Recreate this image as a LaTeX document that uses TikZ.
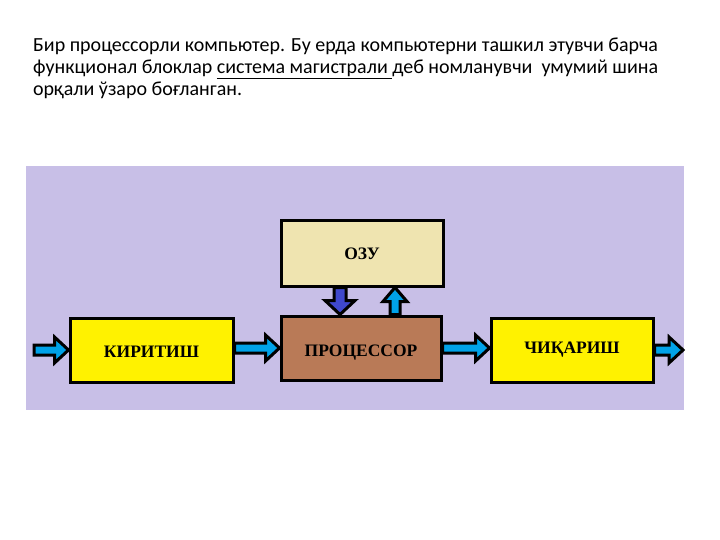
\documentclass[tikz,border=0pt]{standalone}
\usepackage{fontspec}
\setmainfont{Carlito}
\newfontfamily\boxfont{Liberation Serif}
\usetikzlibrary{calc}
\definecolor{bgl}{HTML}{C8BFE7}
\definecolor{yel}{HTML}{FFF200}
\definecolor{tan}{HTML}{EFE4B0}
\definecolor{brn}{HTML}{B97A57}
\definecolor{turq}{HTML}{00A2E8}
\definecolor{indg}{HTML}{3F48CC}
\tikzset{
  blk/.style={draw=black, line width=3pt, line join=miter},
  unit/.style={draw=black, line width=3pt, rectangle, inner sep=0pt,
    text height=11.5pt, text depth=0pt,
    font=\boxfont\bfseries\fontsize{17.5}{17.5}\selectfont},
  para/.style={anchor=base west, inner sep=0pt, font=\fontsize{20}{24}\selectfont}
}
\newcommand{\harr}[3]{%
  \draw[blk, fill=#3] let \p1=(#1), \p2=(#2) in
    (\x1,\y1+5pt) -- (\x2-14pt,\y1+5pt) -- (\x2-14pt,\y1+13pt) -- (\x2,\y1)
    -- (\x2-14pt,\y1-13pt) -- (\x2-14pt,\y1-5pt) -- (\x1,\y1-5pt) -- cycle;}
\begin{document}
\begin{tikzpicture}[x=1pt,y=-1pt]
\useasboundingbox (0,0) rectangle (720,540);
\fill[white] (0,0) rectangle (720,540);
% paragraph
\node[para] (l1) at (33,52) {Бир процессорли компьютер. Бу ерда компьютерни ташкил этувчи барча};
\node[para] (l2) at (33,74) {функционал блоклар \underline{система магистрали\ }деб номланувчи\ \ умумий шина};
\node[para] (l3) at (33,96) {орқали ўзаро боғланган.};
% background
\fill[bgl] (26,166) rectangle (684,410);
% units
\node[unit, fill=tan, minimum width=162, minimum height=65] (ozu) at (362,253.5) {ОЗУ};
\node[unit, fill=brn, minimum width=160, minimum height=64] (proc) at (361,348) {\raisebox{-3pt}{ПРОЦЕССОР}};
\node[unit, fill=yel, minimum width=163, minimum height=64] (kir) at (151.5,350) {\raisebox{-1.5pt}{КИРИТИШ}};
\node[unit, fill=yel, minimum width=162, minimum height=64] (chiq) at (572,350) {\raisebox{2pt}{ЧИҚАРИШ}};
\coordinate (in) at (34,350);
\coordinate (out) at (683,350);
% horizontal block arrows
\harr{in}{kir.west}{turq}
\harr{$(kir.east)+(0,-2)$}{proc.west}{turq}
\harr{proc.east}{chiq.west}{turq}
\harr{chiq.east}{out}{turq}
% vertical block arrows
\draw[blk, fill=indg] let \p1=($(ozu.south)+(-22,0)$), \p2=($(proc.north)+(-21,0)$) in
  (\x1-6pt,\y1) -- (\x1-6pt,\y2+14pt) -- (\x1-15pt,\y2+14pt) -- (\x1,\y2)
  -- (\x1+15pt,\y2+14pt) -- (\x1+6pt,\y2+14pt) -- (\x1+6pt,\y1) -- cycle;
\draw[blk, fill=turq] let \p1=($(proc.north)+(34,0)$), \p2=($(ozu.south)+(34,0)$) in
  (\x1-5pt,\y1) -- (\x1-5pt,\y2-14pt) -- (\x1-12pt,\y2-14pt) -- (\x1,\y2)
  -- (\x1+12pt,\y2-14pt) -- (\x1+5pt,\y2-14pt) -- (\x1+5pt,\y1) -- cycle;
\end{tikzpicture}
\end{document}
